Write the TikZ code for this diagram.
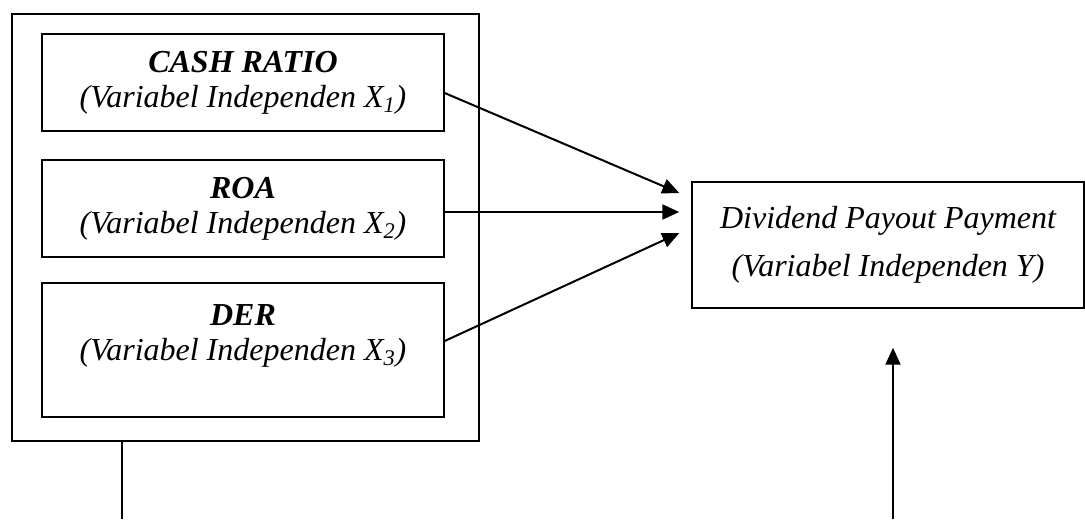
\documentclass[tikz,border=0pt]{standalone}
\usepackage{fontspec}
\setmainfont{Liberation Serif}
\usetikzlibrary{arrows.meta,positioning,calc}

\begin{document}
\begin{tikzpicture}[x=0.5pt, y=-0.5pt,
  var/.style={draw, line width=0.7pt, align=center, inner sep=0pt, minimum width=201pt, font=\fontsize{16}{17.5}\selectfont\itshape},
  link/.style={->, line width=1pt}, >={Triangle[length=8.5pt,width=7.5pt]}]
\useasboundingbox (0,0) rectangle (1085,519);
\node[draw, line width=0.8pt, minimum width=233.5pt, minimum height=213.5pt] (frame) at (245.5,227.5) {};
\node[var, minimum height=48.5pt] (cash) at (243,82.5) {\textbf{CASH RATIO}\\(Variabel Independen X\textsubscript{1})};
\node[var, minimum height=48.5pt] (roa) at (243,208.5) {\textbf{ROA}\\(Variabel Independen X\textsubscript{2})};
\node[var, minimum height=67pt] (der) at (243,350) {\textbf{DER}\\(Variabel Independen X\textsubscript{3})\\ \mbox{}};
\node[var, minimum width=196pt, minimum height=63pt] (dpp) at (888,245) {Dividend Payout Payment\\[6.5pt](Variabel Independen Y)};
% arrow ends at the left of the result box
\coordinate (in1) at ($(dpp.west)+(-12,-52)$);
\coordinate (in2) at ($(dpp.west)+(-12,-33)$);
\coordinate (in3) at ($(dpp.west)+(-12,-12)$);
\draw[link] ($(cash.east)+(0,10.5)$) -- (in1);
\draw[link] (roa.east |- in2) -- (in2);
\draw[link] ($(der.east)+(0,-9)$) -- (in3);
% lines that leave the picture at the bottom
\coordinate (foot) at (122,519);
\coordinate (rise) at (893,519);
\coordinate (tip) at ($(dpp.south)+(5,39)$);
\draw[line width=1pt] (frame.south -| foot) -- (foot);
\draw[link] (rise) -- (tip);
\end{tikzpicture}
\end{document}
